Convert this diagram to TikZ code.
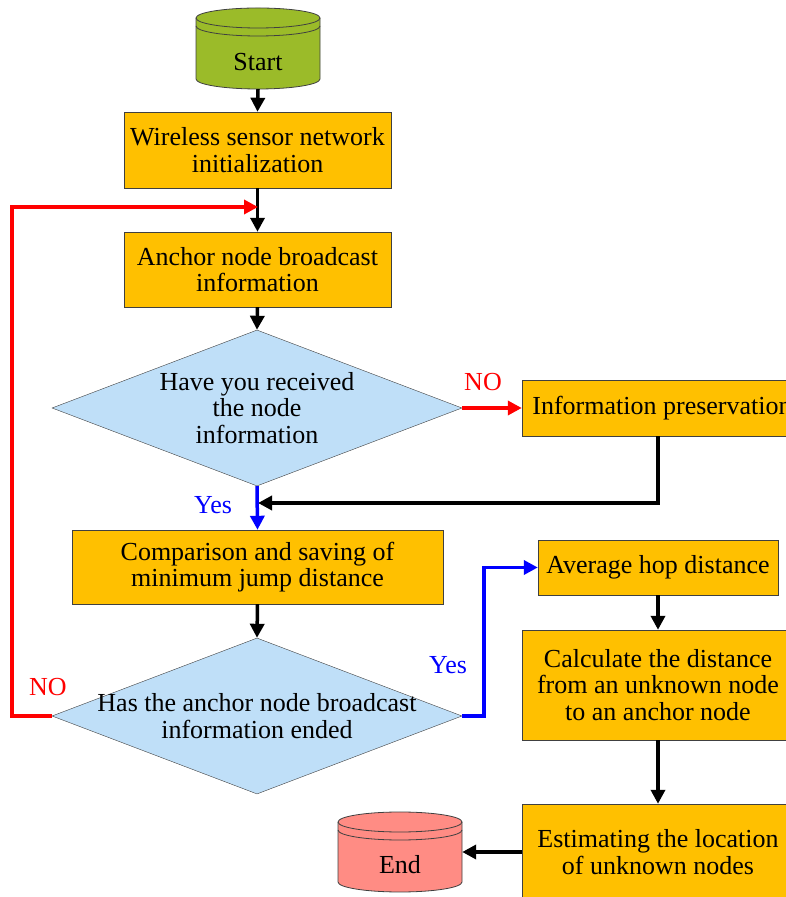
\documentclass[tikz,border=0pt]{standalone}
\usepackage{fontspec}
\setmainfont{Liberation Serif}
\usepackage{tikz}
\usetikzlibrary{arrows.meta, positioning, shapes.geometric, calc}

\definecolor{boxorange}{HTML}{FFC000}
\definecolor{askblue}{HTML}{BFDFF8}
\definecolor{startgreen}{HTML}{9BBB29}
\definecolor{stopred}{HTML}{FF8C84}
\definecolor{edgegray}{HTML}{404040}

\begin{document}
\begin{tikzpicture}[
    x=1pt, y=1pt,
    every node/.style={font=\fontsize{26}{26.5}\selectfont},
    proc/.style={rectangle, draw=edgegray, fill=boxorange, inner sep=0pt,
                 align=center},
    ask/.style={diamond, draw=edgegray, fill=askblue, inner sep=0pt,
                minimum width=410, minimum height=156},
    drum/.style={draw=edgegray, line width=0.8pt},
    flow/.style={-{Triangle[length=14pt, width=14pt]}, line width=3.5pt},
    nobr/.style={flow, red},
    yesbr/.style={flow, blue}
]
\useasboundingbox (0,0) rectangle (785,897);

% Start terminal
\path[drum, fill=startgreen] (196,879) -- (196,818)
    arc[start angle=180, end angle=360, x radius=62, y radius=10] -- (320,879)
    arc[start angle=0, end angle=180, x radius=62, y radius=10] -- cycle;
\draw[drum] (196,879) arc[start angle=180, end angle=360, x radius=62, y radius=10];
\draw[drum] (196,871) arc[start angle=180, end angle=360, x radius=62, y radius=10];
\node[minimum width=124, minimum height=54, inner sep=0pt] (start) at (258,835) {Start};

% Main column
\node[proc, minimum width=267, minimum height=76] (init) at (257.5,747)
    {Wireless sensor network\\initialization};
\node[proc, minimum width=267, minimum height=75] (bcast) at (257.5,627.5)
    {Anchor node broadcast\\information};
\node[ask, label={[align=center]center:Have you received\\the node\\information}]
    (recv) at (257,489) {};
\node[proc, minimum width=371, minimum height=74] (cmp) at (257.5,330)
    {Comparison and saving of\\minimum jump distance};
\node[ask, label={[align=center]center:Has the anchor node broadcast\\information ended}]
    (over) at (257,181) {};

% Right column
\node[proc, minimum width=280, minimum height=56] (keep) at (662,489)
    {Information preservation};
\node[proc, minimum width=240, minimum height=55] (hop) at (658,329.5)
    {Average hop distance};
\node[proc, minimum width=272, minimum height=110] (dist) at (658,212)
    {Calculate the distance\\from an unknown node\\to an anchor node};
\node[proc, minimum width=272, minimum height=96] (est) at (658,45)
    {Estimating the location\\of unknown nodes};

% End terminal
\path[drum, fill=stopred] (338,75) -- (338,15)
    arc[start angle=180, end angle=360, x radius=62, y radius=10] -- (462,75)
    arc[start angle=0, end angle=180, x radius=62, y radius=10] -- cycle;
\draw[drum] (338,75) arc[start angle=180, end angle=360, x radius=62, y radius=10];
\draw[drum] (338,67) arc[start angle=180, end angle=360, x radius=62, y radius=10];
\node[minimum width=124, minimum height=54, inner sep=0pt] (stop) at (400,32) {End};

% Join points
\coordinate (loop) at (258,690);
\coordinate (merge) at (258,394);

% Straight flow
\draw[flow] (start.south) -- (init.north);
\draw[flow] (init.south) -- (bcast.north);
\draw[flow] (bcast.south) -- (recv.north);
\draw[flow] (cmp.south) -- (over.north);
\draw[flow] (hop.south) -- (hop.south |- dist.north);
\draw[flow] (dist.south) -- (dist.south |- est.north);
\draw[flow] (est.west) -- (est.west -| stop.east);
\draw[flow] (keep.south -| 658,0) |- (merge);

% Decisions
\draw[nobr] (recv.east) -- (keep.west);
\node[red] (no1) at (483,515) {NO};
\draw[yesbr] (recv.south) -- (cmp.north);
\node[blue] (yes1) at (213,392) {Yes};
\draw[nobr] (over.west) -- (12,181) |- (loop);
\node[red] (no2) at (48,210) {NO};
\draw[yesbr] (over.east) -- (484,181) |- (hop.west);
\node[blue] (yes2) at (448,232) {Yes};
\end{tikzpicture}
\end{document}
